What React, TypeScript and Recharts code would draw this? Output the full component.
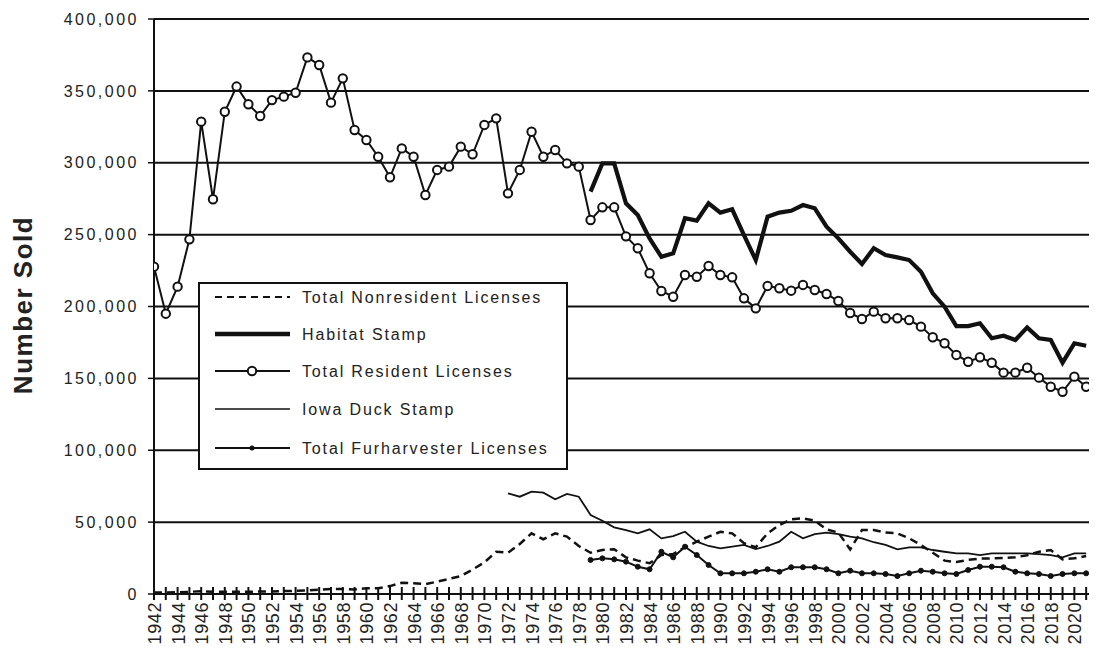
import React from 'react';
import { LineChart, Line, XAxis, YAxis, CartesianGrid, Legend } from 'recharts';

const FIRST_YEAR = 1942;
const LAST_YEAR = 2021;
const years: number[] = [];
for (let y = FIRST_YEAR; y <= LAST_YEAR; y++) years.push(y);

const yTicks = [0, 50000, 100000, 150000, 200000, 250000, 300000, 350000, 400000];

// Total Nonresident Licenses, 1942-2021
const nonresidentStart = 1942;
const nonresident = [
  1000, 1000, 1200, 1500, 2000, 1500, 1500, 1500, 1500, 1800,
  1800, 2000, 2200, 2500, 3000, 3500, 3500, 3200, 4000, 4000,
  5500, 7800, 7500, 6800, 8600, 10500, 12500, 17000, 22000, 29400,
  28700, 34800, 42200, 38100, 42200, 39900, 33400, 28700, 30600, 31100,
  25500, 23200, 21400, 27100, 27800, 32500, 36400, 39900, 43300, 42200,
  35300, 32500, 42200, 48000, 52000, 52700, 51000, 45000, 42700, 31000,
  44500, 44500, 42700, 42200, 38700, 34100, 28700, 23200, 22200, 23700,
  24600, 24800, 25000, 25500, 27000, 29400, 30600, 24100, 24800, 26400,
];

// Habitat Stamp, 1979-2021
const habitatStart = 1979;
const habitat = [
  279900, 299600, 299600, 271800, 263700, 247400, 234600, 237000, 261400, 259700,
  271800, 265300, 267600, 249700, 232300, 262500, 265300, 266600, 270600, 268300,
  255500, 247400, 238100, 229600, 240500, 235800, 234200, 232300, 224200, 209200,
  199900, 186400, 186400, 188300, 177900, 179700, 176700, 185500, 177900, 176700,
  160900, 174400, 172700,
];

// Total Resident Licenses, 1942-2021
const residentStart = 1942;
const resident = [
  227700, 195000, 213800, 246700, 328600, 274600, 335500, 353000, 340700, 332500,
  343600, 346000, 348700, 373300, 368000, 341800, 358700, 322800, 315800, 304200,
  289900, 310000, 304200, 277600, 295000, 297300, 311200, 305900, 326300, 330900,
  278700, 295000, 321600, 304200, 308900, 299600, 297300, 260200, 269000, 269000,
  248800, 240500, 223100, 210800, 206800, 221900, 220700, 228200, 221900, 220300,
  205700, 198700, 214300, 212700, 211000, 215000, 211500, 208700, 203800, 195500,
  191300, 196400, 191800, 191800, 190600, 186000, 178600, 174400, 166300, 161600,
  164700, 160900, 154000, 154000, 157400, 150500, 144200, 140700, 151200, 144200,
];

// Iowa Duck Stamp, 1972-2021
const duckStart = 1972;
const duck = [
  70000, 67700, 71200, 70500, 65900, 69600, 67700, 55000, 51000, 46400,
  44500, 42200, 45000, 38700, 40300, 43300, 36400, 33400, 31800, 32900,
  34100, 31300, 33400, 36400, 43300, 38700, 41700, 42700, 41700, 39900,
  38700, 36000, 34100, 31100, 32500, 32500, 30600, 29400, 28300, 28300,
  27100, 28300, 28300, 28300, 28300, 27800, 27100, 25500, 28300, 28300,
];

// Total Furharvester Licenses, 1979-2021
const furStart = 1979;
const fur = [
  23700, 24800, 24100, 22500, 19000, 17200, 29400, 25500, 32900, 27100,
  20200, 14400, 14400, 14400, 15500, 17200, 15500, 18600, 18600, 18600,
  17200, 14400, 16200, 14400, 14400, 13900, 12500, 14400, 16200, 15500,
  14400, 13900, 16700, 19000, 19000, 18600, 15500, 14400, 13900, 12500,
  13900, 14400, 14400,
];

const pick = (arr: number[], start: number, yr: number) => {
  const i = yr - start;
  return i >= 0 && i < arr.length ? arr[i] : null;
};

const data = years.map((yr) => ({
  year: yr,
  nonresident: pick(nonresident, nonresidentStart, yr),
  habitat: pick(habitat, habitatStart, yr),
  resident: pick(resident, residentStart, yr),
  duck: pick(duck, duckStart, yr),
  fur: pick(fur, furStart, yr),
}));

const INK = '#111';
const FONT = '"Liberation Sans", Arial, sans-serif';

const XTick = (props: any) => {
  const { x, y, payload } = props;
  const yr = payload.value as number;
  return (
    <g>
      <line x1={x} x2={x} y1={y - 7} y2={y + 6} stroke={INK} strokeWidth={2} />
      {yr % 2 === 0 && (
        <text
          transform={`translate(${x + 7},${y + 8}) rotate(-90)`}
          textAnchor="end"
          fontSize={18}
          fontFamily={FONT}
          fill="#222"
          letterSpacing={0.6}
        >
          {yr}
        </text>
      )}
    </g>
  );
};

const YLabel = () => (
  <text
    transform="translate(15,297) rotate(-90)"
    textAnchor="middle"
    dominantBaseline="central"
    fontSize={26}
    fontWeight="bold"
    fontFamily={FONT}
    fill="#222"
    letterSpacing={1.5}
  >
    Number Sold
  </text>
);

const legendItems = [
  { name: 'Total Nonresident Licenses', kind: 'dash' },
  { name: 'Habitat Stamp', kind: 'thick' },
  { name: 'Total Resident Licenses', kind: 'circle' },
  { name: 'Iowa Duck Stamp', kind: 'thin' },
  { name: 'Total Furharvester Licenses', kind: 'dot' },
];
const legendRows = [13, 50, 87, 125, 164];

const LegendBox = () => (
  <div
    style={{
      width: 370,
      height: 188,
      boxSizing: 'border-box',
      border: `2px solid ${INK}`,
      background: '#fff',
    }}
  >
    <svg width={366} height={184} style={{ display: 'block' }}>
      {legendItems.map((it, i) => {
        const cy = legendRows[i];
        return (
          <g key={it.name}>
            {it.kind === 'dash' && (
              <line x1={15} x2={90} y1={cy} y2={cy} stroke={INK} strokeWidth={2} strokeDasharray="7 5" />
            )}
            {it.kind === 'thick' && (
              <line x1={15} x2={90} y1={cy} y2={cy} stroke={INK} strokeWidth={4.5} />
            )}
            {it.kind === 'circle' && (
              <g>
                <line x1={15} x2={90} y1={cy} y2={cy} stroke={INK} strokeWidth={2} />
                <circle cx={52} cy={cy} r={4.2} fill="#fff" stroke={INK} strokeWidth={2} />
              </g>
            )}
            {it.kind === 'thin' && (
              <line x1={15} x2={90} y1={cy} y2={cy} stroke={INK} strokeWidth={1.6} />
            )}
            {it.kind === 'dot' && (
              <g>
                <line x1={15} x2={90} y1={cy} y2={cy} stroke={INK} strokeWidth={2} />
                <circle cx={52} cy={cy} r={2.5} fill={INK} />
              </g>
            )}
            <text
              x={102}
              y={cy}
              dominantBaseline="central"
              fontSize={16}
              fontFamily={FONT}
              fill="#222"
              letterSpacing={1.85}
            >
              {it.name}
            </text>
          </g>
        );
      })}
    </svg>
  </div>
);

export default function App() {
  return (
    <div style={{ width: 1089, height: 650, background: '#fff' }}>
      <LineChart
        width={1089}
        height={650}
        data={data}
        margin={{ top: 11, right: 2, left: 0, bottom: 0 }}
      >
        <CartesianGrid vertical={false} stroke={INK} strokeWidth={2} />
        <XAxis
          dataKey="year"
          type="number"
          domain={[1942, 2021.75]}
          allowDataOverflow
          ticks={years}
          interval={0}
          height={64}
          tickLine={false}
          tickSize={0}
          tickMargin={0}
          tick={<XTick />}
          axisLine={{ stroke: INK, strokeWidth: 2 }}
        />
        <YAxis
          width={146}
          domain={[0, 400000]}
          ticks={yTicks}
          interval={0}
          tickSize={6}
          tickMargin={9}
          tickLine={{ stroke: INK, strokeWidth: 1.5 }}
          axisLine={{ stroke: INK, strokeWidth: 2 }}
          tickFormatter={(v: number) => v.toLocaleString('en-US')}
          tick={{ fontSize: 16, fill: '#222', fontFamily: FONT, letterSpacing: 2.5 } as any}
          label={<YLabel />}
        />
        <Legend
          layout="vertical"
          align="center"
          verticalAlign="middle"
          content={<LegendBox />}
          wrapperStyle={{ position: 'absolute', left: 190, top: 274, width: 370, height: 188 }}
        />
        <Line
          dataKey="nonresident"
          name="Total Nonresident Licenses"
          stroke={INK}
          strokeWidth={2.5}
          strokeDasharray="8 5"
          dot={false}
          isAnimationActive={false}
        />
        <Line
          dataKey="duck"
          name="Iowa Duck Stamp"
          stroke={INK}
          strokeWidth={1.8}
          dot={false}
          isAnimationActive={false}
        />
        <Line
          dataKey="fur"
          name="Total Furharvester Licenses"
          stroke={INK}
          strokeWidth={2}
          dot={{ r: 2.5, fill: INK, stroke: INK, strokeWidth: 1 }}
          isAnimationActive={false}
        />
        <Line
          dataKey="habitat"
          name="Habitat Stamp"
          stroke={INK}
          strokeWidth={4.2}
          dot={false}
          isAnimationActive={false}
        />
        <Line
          dataKey="resident"
          name="Total Resident Licenses"
          stroke={INK}
          strokeWidth={2}
          dot={{ r: 4.2, fill: '#fff', stroke: INK, strokeWidth: 2 }}
          isAnimationActive={false}
        />
      </LineChart>
    </div>
  );
}
